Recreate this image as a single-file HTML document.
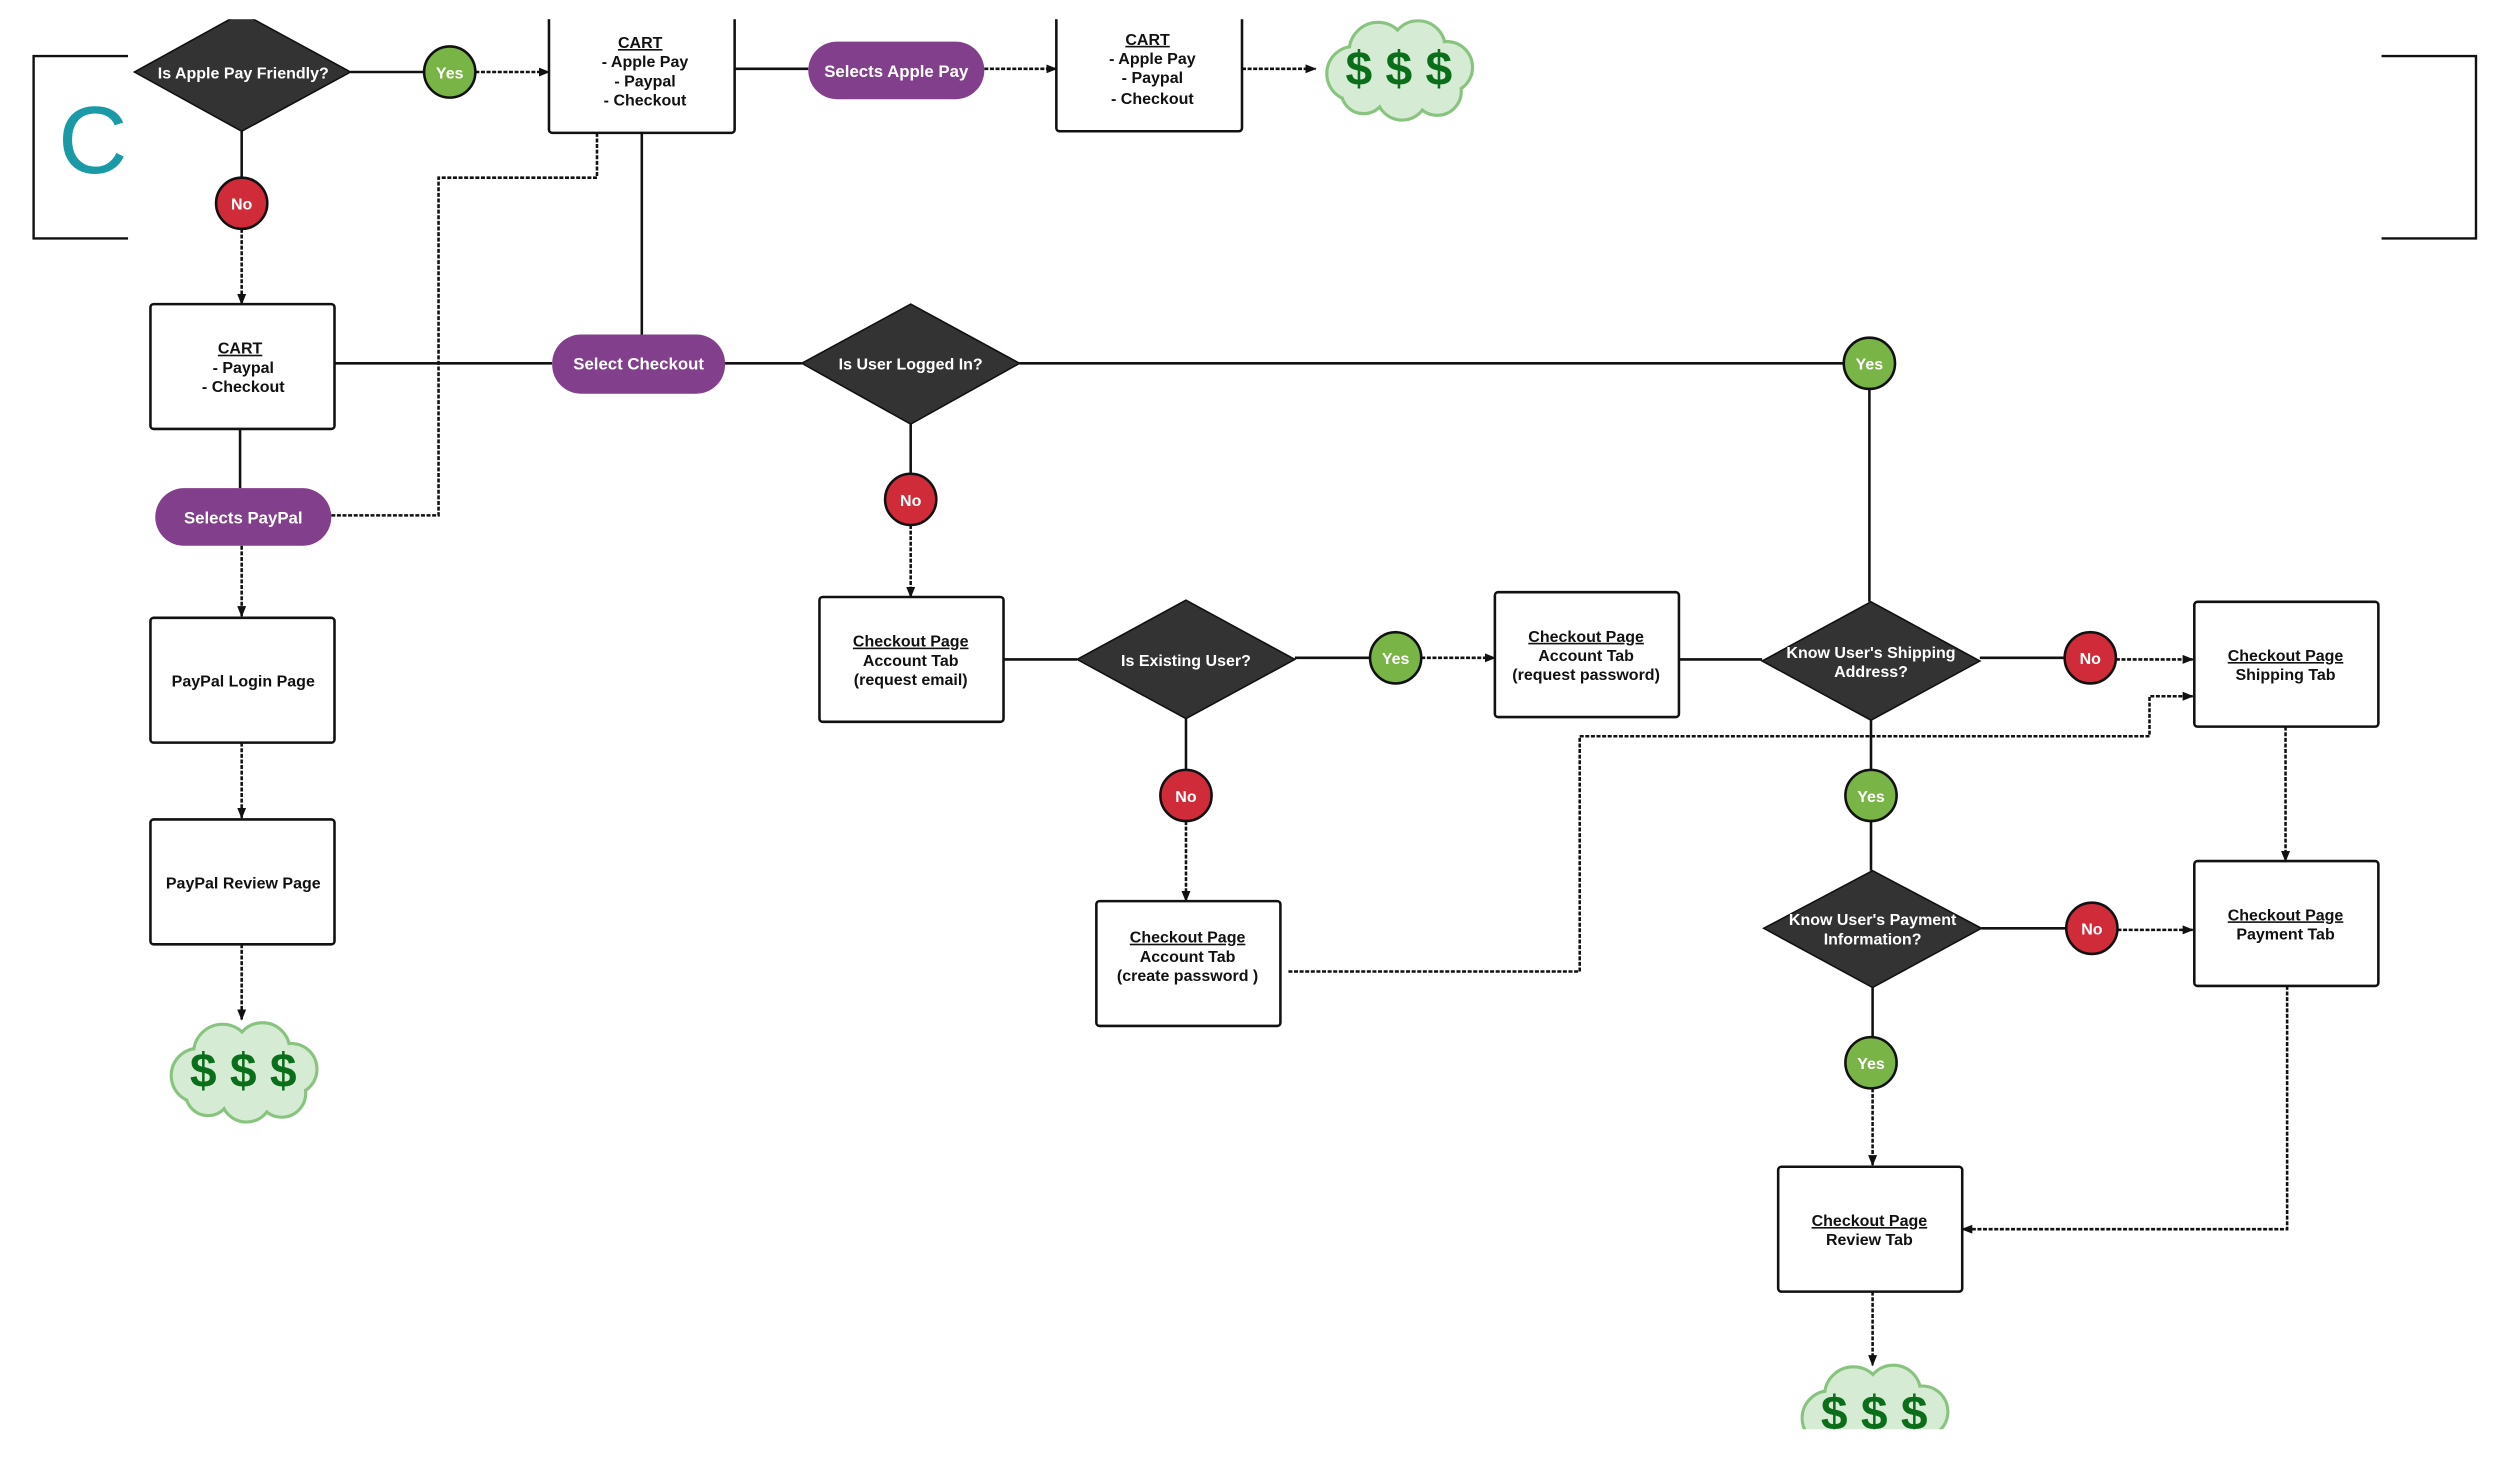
<!DOCTYPE html>
<html><head><meta charset="utf-8"><style>
html,body{margin:0;padding:0;background:#fff;}
svg{display:block;}
text{font-family:"Liberation Sans",Arial,sans-serif;}
</style></head><body>
<svg width="2500" height="1472" viewBox="0 0 1562 919.7" preserveAspectRatio="none" xmlns="http://www.w3.org/2000/svg">
<defs>
<marker id="a" viewBox="0 0 10 10" refX="9" refY="5" markerWidth="7" markerHeight="7" orient="auto" markerUnits="userSpaceOnUse"><path d="M0,1 L10,5 L0,9 z" fill="#111"/></marker>
<g id="cloud">
<g fill="#d6ebd3" stroke="#88c47f" stroke-width="2">
<circle cx="-28" cy="3" r="17"/><circle cx="-13" cy="-11" r="18"/><circle cx="12" cy="-13" r="17"/><circle cx="30" cy="-1" r="16"/><circle cx="24" cy="14" r="15"/><circle cx="2" cy="16" r="16"/><circle cx="-22" cy="14" r="14"/></g>
<g fill="#d6ebd3">
<circle cx="-28" cy="3" r="16"/><circle cx="-13" cy="-11" r="17"/><circle cx="12" cy="-13" r="16"/><circle cx="30" cy="-1" r="15"/><circle cx="24" cy="14" r="14"/><circle cx="2" cy="16" r="15"/><circle cx="-22" cy="14" r="13"/><ellipse cx="0" cy="2" rx="32" ry="20"/></g>
<text x="-25" y="10" font-size="30" font-weight="bold" fill="#0b6e1a" text-anchor="middle">$</text>
<text x="0" y="10" font-size="30" font-weight="bold" fill="#0b6e1a" text-anchor="middle">$</text>
<text x="25" y="10" font-size="30" font-weight="bold" fill="#0b6e1a" text-anchor="middle">$</text>
</g>
</defs>

<!-- brackets -->
<g fill="none" stroke="#111" stroke-width="1.5">
<path d="M80,35 H21 V149 H80"/>
<path d="M1488,35 H1547 V149 H1488"/>
</g>
<text x="58" y="108" font-size="60" fill="#1a9aa6" text-anchor="middle">C</text>

<!-- solid lines -->
<g fill="none" stroke="#111" stroke-width="1.6">
<path d="M219,45 H265"/>
<path d="M459,43 H505"/>
<path d="M151,82 V111"/>
<path d="M401,83 V209"/>
<path d="M209,227 H345"/>
<path d="M453,227 H501"/>
<path d="M637,227 H1152"/>
<path d="M1168,243 V376"/>
<path d="M150,268 V305"/>
<path d="M569,265 V296"/>
<path d="M627,412 H673"/>
<path d="M809,411 H856"/>
<path d="M1049,412 H1101"/>
<path d="M1237,411 H1290"/>
<path d="M741,449 V481"/>
<path d="M1169,450 V481"/>
<path d="M1169,513 V544"/>
<path d="M1238,580 H1291"/>
<path d="M1170,617 V648"/>
</g>
<!-- dashed lines -->
<g fill="none" stroke="#111" stroke-width="1.6" stroke-dasharray="2.5 1">
<path d="M297,45 H343" marker-end="url(#a)"/>
<path d="M615,43 H660" marker-end="url(#a)"/>
<path d="M776,43 H822" marker-end="url(#a)"/>
<path d="M151,143 V190" marker-end="url(#a)"/>
<path d="M373,83 V111 H274 V322 H207"/>
<path d="M151,341 V385" marker-end="url(#a)"/>
<path d="M151,464 V511" marker-end="url(#a)"/>
<path d="M151,590 V637" marker-end="url(#a)"/>
<path d="M569,328 V373" marker-end="url(#a)"/>
<path d="M888,411 H934" marker-end="url(#a)"/>
<path d="M1322,412 H1370" marker-end="url(#a)"/>
<path d="M741,513 V563" marker-end="url(#a)"/>
<path d="M805,607 H987 V460 H1343 V435 H1370" marker-end="url(#a)"/>
<path d="M1428,454 V538" marker-end="url(#a)"/>
<path d="M1323,581 H1370" marker-end="url(#a)"/>
<path d="M1429,616 V768 H1226" marker-end="url(#a)"/>
<path d="M1170,680 V728" marker-end="url(#a)"/>
<path d="M1170,807 V853" marker-end="url(#a)"/>
</g>

<!-- boxes -->
<g fill="#fff" stroke="#111" stroke-width="1.6">
<rect x="343" y="-5" width="116" height="88" rx="2"/>
<rect x="660" y="-5" width="116" height="87" rx="2"/>
<rect x="94" y="190" width="115" height="78" rx="2"/>
<rect x="94" y="386" width="115" height="78" rx="2"/>
<rect x="94" y="512" width="115" height="78" rx="2"/>
<rect x="512" y="373" width="115" height="78" rx="2"/>
<rect x="934" y="370" width="115" height="78" rx="2"/>
<rect x="1371" y="376" width="115" height="78" rx="2"/>
<rect x="685" y="563" width="115" height="78" rx="2"/>
<rect x="1371" y="538" width="115" height="78" rx="2"/>
<rect x="1111" y="729" width="115" height="78" rx="2"/>
</g>

<!-- diamonds -->
<g fill="#333" stroke="#111" stroke-width="1">
<path d="M151,8 L219,45 L151,82 L84,45 Z"/>
<path d="M569,190 L637,227 L569,265 L501,227 Z"/>
<path d="M741,375 L809,412 L741,449 L673,412 Z"/>
<path d="M1169,376 L1237,413 L1169,450 L1101,413 Z"/>
<path d="M1170,544 L1238,580 L1170,617 L1102,580 Z"/>
</g>

<!-- pills -->
<g fill="#823f8b">
<rect x="505" y="26" width="110" height="36" rx="18"/>
<rect x="345" y="209" width="108" height="37" rx="18"/>
<rect x="97" y="305" width="110" height="36" rx="18"/>
</g>

<!-- circles -->
<g stroke="#111" stroke-width="1.6">
<circle cx="281" cy="45" r="16" fill="#78b446"/>
<circle cx="1168" cy="227" r="16" fill="#78b446"/>
<circle cx="872" cy="411" r="16" fill="#78b446"/>
<circle cx="1169" cy="497" r="16" fill="#78b446"/>
<circle cx="1169" cy="664" r="16" fill="#78b446"/>
<circle cx="151" cy="127" r="16" fill="#d02b39"/>
<circle cx="569" cy="312" r="16" fill="#d02b39"/>
<circle cx="741" cy="497" r="16" fill="#d02b39"/>
<circle cx="1306" cy="411" r="16" fill="#d02b39"/>
<circle cx="1307" cy="580" r="16" fill="#d02b39"/>
</g>

<use href="#cloud" x="874" y="43"/>
<use href="#cloud" x="152" y="669"/>
<use href="#cloud" x="1171" y="883"/>

<!-- white text -->
<g fill="#fff" font-weight="bold" font-size="10" text-anchor="middle">
<text x="152" y="49">Is Apple Pay Friendly?</text>
<text x="569" y="231">Is User Logged In?</text>
<text x="741" y="416">Is Existing User?</text>
<text x="1169" y="411">Know User's Shipping</text>
<text x="1169" y="423">Address?</text>
<text x="1170" y="578">Know User's Payment</text>
<text x="1170" y="590">Information?</text>
<text x="560" y="48" font-size="10.5">Selects Apple Pay</text>
<text x="399" y="231" font-size="10.5">Select Checkout</text>
<text x="152" y="327" font-size="10.5">Selects PayPal</text>
<text x="281" y="49">Yes</text>
<text x="1168" y="231">Yes</text>
<text x="872" y="415">Yes</text>
<text x="1169" y="501">Yes</text>
<text x="1169" y="668">Yes</text>
<text x="151" y="131">No</text>
<text x="569" y="316">No</text>
<text x="741" y="501">No</text>
<text x="1306" y="415">No</text>
<text x="1307" y="584">No</text>
</g>

<!-- box text -->
<g fill="#111" font-weight="bold" font-size="10" text-anchor="middle">
<text x="400" y="30" text-decoration="underline">CART</text>
<text x="403" y="42">- Apple Pay</text>
<text x="403" y="54">- Paypal</text>
<text x="403" y="66">- Checkout</text>
<text x="717" y="28" text-decoration="underline">CART</text>
<text x="720" y="40">- Apple Pay</text>
<text x="720" y="52">- Paypal</text>
<text x="720" y="65">- Checkout</text>
<text x="150" y="221" text-decoration="underline">CART</text>
<text x="152" y="233">- Paypal</text>
<text x="152" y="245">- Checkout</text>
<text x="152" y="429">PayPal Login Page</text>
<text x="152" y="555">PayPal Review Page</text>
<text x="569" y="404" text-decoration="underline">Checkout Page</text>
<text x="569" y="416">Account Tab</text>
<text x="569" y="428">(request email)</text>
<text x="991" y="401" text-decoration="underline">Checkout Page</text>
<text x="991" y="413">Account Tab</text>
<text x="991" y="425">(request password)</text>
<text x="1428" y="413" text-decoration="underline">Checkout Page</text>
<text x="1428" y="425">Shipping Tab</text>
<text x="742" y="589" text-decoration="underline">Checkout Page</text>
<text x="742" y="601">Account Tab</text>
<text x="742" y="613">(create password )</text>
<text x="1428" y="575" text-decoration="underline">Checkout Page</text>
<text x="1428" y="587">Payment Tab</text>
<text x="1168" y="766" text-decoration="underline">Checkout Page</text>
<text x="1168" y="778">Review Tab</text>
</g>

<!-- clipping -->
<rect x="0" y="0" width="1562" height="12" fill="#fff"/>
<rect x="0" y="893" width="1562" height="30" fill="#fff"/>
</svg>
</body></html>
